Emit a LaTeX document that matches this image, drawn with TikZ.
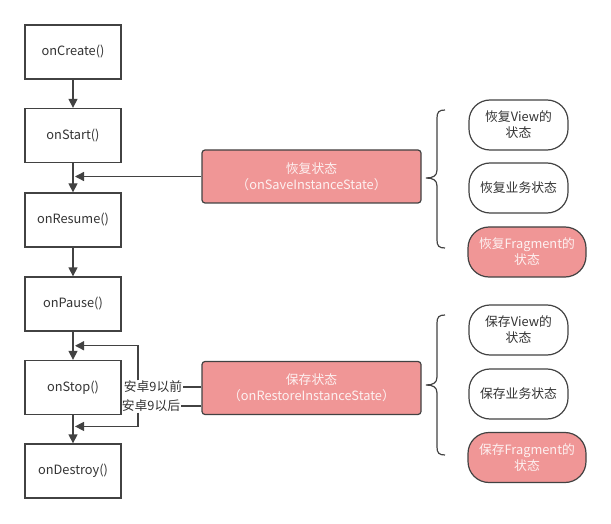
\documentclass[tikz,border=0pt]{standalone}
\usepackage{fontspec}
\setmainfont{Noto Sans CJK SC}
\usetikzlibrary{arrows.meta,calc}
\definecolor{pk}{HTML}{F09696}
\definecolor{ln}{HTML}{424242}
\definecolor{tx}{HTML}{333333}
\definecolor{ptx}{HTML}{FDF1F1}
\begin{document}
\begin{tikzpicture}[x=1pt,y=-1pt,
  txt/.style={font=\fontsize{12.8}{16}\selectfont},
  life/.style={txt, draw=ln, line width=1.3pt, minimum width=96pt, minimum height=54pt, text=tx, inner sep=0pt},
  statebox/.style={txt, draw=ln, fill=pk, rounded corners=3pt, line width=1.2pt, minimum width=219pt, minimum height=53pt, text=ptx, align=center, inner sep=0pt},
  pill/.style={txt, draw=ln, rounded corners=21pt, line width=1.2pt, minimum width=99pt, minimum height=50pt, text=tx, align=center, inner sep=0pt},
  pillp/.style={pill, fill=pk, text=ptx, minimum width=118pt},
  conn/.style={draw=ln, line width=1.3pt},
  arr/.style={conn, -{Triangle[length=9pt,width=9pt]}},
  lbl/.style={txt, text=tx, inner sep=0.5pt},
  bracel/.style={draw=ln, line width=1.2pt}
]
\useasboundingbox (0,0) rectangle (611,524);

% lifecycle column
\node[life] (create)  at (73,52)    {onCreate()};
\node[life] (start)   at (73,135.5) {onStart()};
\node[life] (resume)  at (73,220)   {onResume()};
\node[life] (pause)   at (73,304)   {onPause()};
\node[life] (stop)    at (73,387.5) {onStop()};
\node[life] (destroy) at (73,471)   {onDestroy()};

\draw[arr] (create) -- (start);
\draw[arr] (start) -- (resume);
\draw[arr] (resume) -- (pause);
\draw[arr] (pause) -- (stop);
\draw[arr] (stop) -- (destroy);

% state boxes
\node[statebox] (restore) at (311.5,176.5) {恢复状态\\（onSaveInstanceState）};
\node[statebox] (save)    at (311.5,388)   {保存状态\\（onRestoreInstanceState）};

\coordinate (j1) at ($(start.south)!0.5!(resume.north)+(2,0)$);
\coordinate (j2) at ($(pause.south)!0.5!(stop.north)+(2,0)$);
\coordinate (j3) at ($(stop.south)!0.4!(destroy.north)+(2,0)$);

\draw[arr] (restore.west) -- (restore.west -| j1);

\node[lbl] (before) at (153,387) {安卓9以前};
\node[lbl] (after)  at (151,406) {安卓9以后};
\coordinate (k1) at (138,0);
\draw[conn] (save.west |- before.east) -- (before.east);
\draw[conn] (save.west |- after.east) -- (after.east);
\draw[arr] (before.north -| k1) |- (j2);
\draw[arr] (after.south -| k1) |- (j3);

% right pills
\node[pill]  (r1) at (518.5,125) {恢复View的\\状态};
\node[pill]  (r2) at (518.5,188) {恢复业务状态};
\node[pillp] (r3) at (527,252)   {恢复Fragment的\\状态};
\node[pill]  (s1) at (518.5,330) {保存View的\\状态};
\node[pill]  (s2) at (518.5,394) {保存业务状态};
\node[pillp] (s3) at (527,457.5) {保存Fragment的\\状态};

% braces
\draw[bracel] (445,110) .. controls (439,110) and (437,112) .. (437,118)
  -- (437,170) .. controls (437,176) and (433,178) .. (426,178)
  .. controls (433,178) and (437,180) .. (437,186)
  -- (437,240) .. controls (437,246) and (439,248) .. (445,248);
\draw[bracel] (445,315) .. controls (439,315) and (437,317) .. (437,323)
  -- (437,377) .. controls (437,383) and (433,385) .. (426,385)
  .. controls (433,385) and (437,387) .. (437,393)
  -- (437,447) .. controls (437,453) and (439,455) .. (445,455);
\end{tikzpicture}
\end{document}
